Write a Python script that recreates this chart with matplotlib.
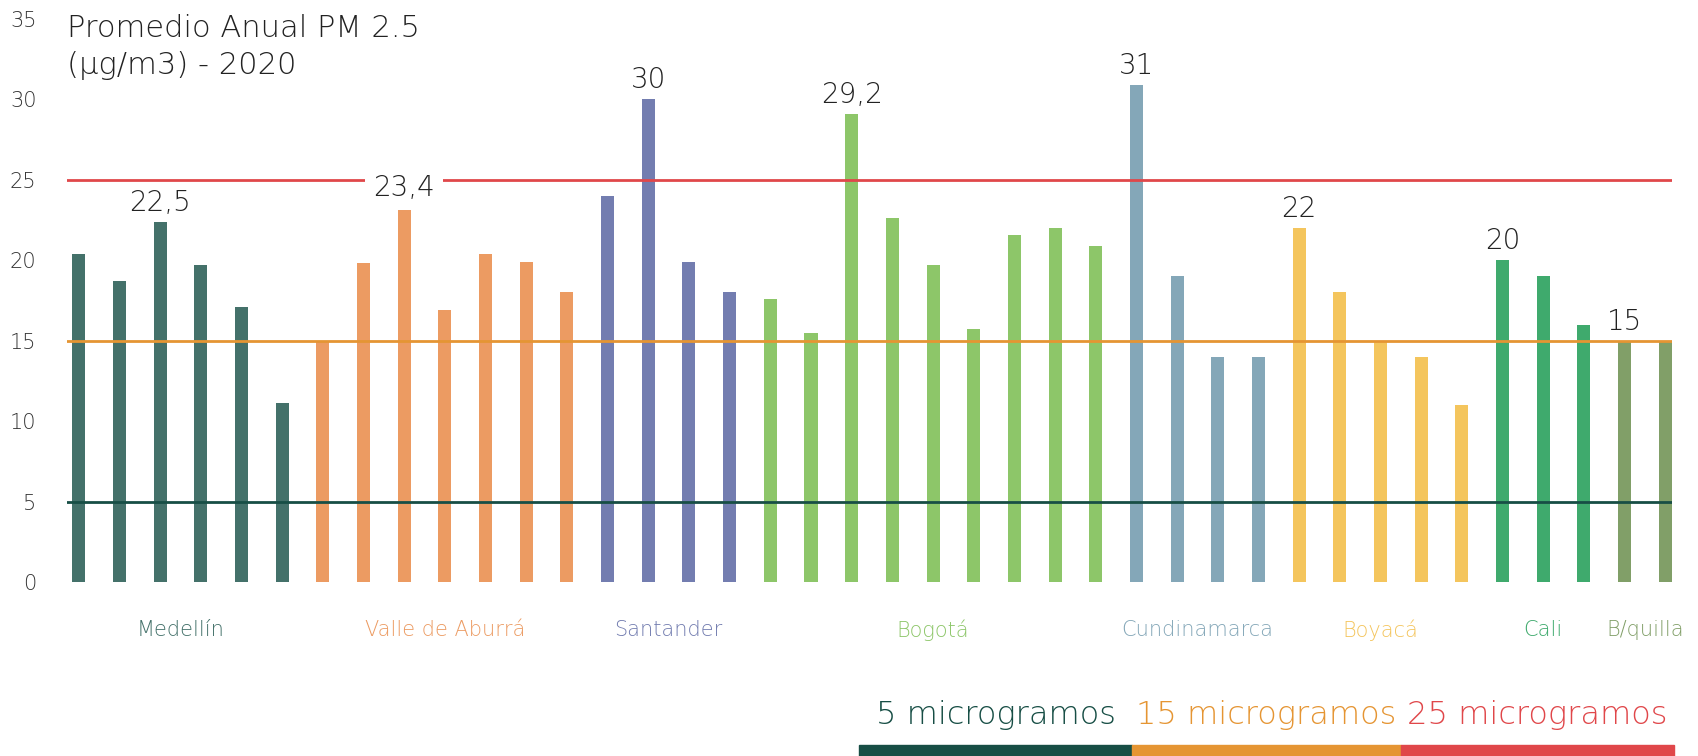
import numpy as np
import matplotlib.pyplot as plt
from matplotlib.patches import Rectangle

plt.rcParams['font.family'] = ['DejaVu Sans']
plt.rcParams['font.weight'] = 'light'

# --- data ---
groups = ["Medellín", "Valle de Aburrá", "Santander", "Bogotá",
          "Cundinamarca", "Boyacá", "Cali", "B/quilla"]
medellin = [20.4, 18.7, 22.4, 19.7, 17.1, 11.1]
valle = [15.0, 19.8, 23.3, 16.9, 20.4, 19.9, 18.0]
santander = [24.0, 30.0, 19.9, 18.0]
bogota = [17.6, 15.5, 29.1, 22.6, 19.7, 15.7, 21.6, 22.0, 20.9]
cundinamarca = [30.9, 19.0, 14.0, 14.0]
boyaca = [22.0, 18.0, 15.0, 14.0, 11.0]
cali = [20.0, 19.0, 16.0]
bquilla = [15.0, 15.0]
group_values = [medellin, valle, santander, bogota, cundinamarca, boyaca, cali, bquilla]
group_colors = ["#44716a", "#ec9b62", "#737db0", "#8dc669",
                "#84a7b8", "#f4c55d", "#3faa6d", "#819f68"]

label_idx = [2, 8, 14, 19, 26, 30, 35, 38]
label_txt = ["22,5", "23,4", "30", "29,2", "31", "22", "20", "15"]

limits = [5, 15, 25]
limit_colors = ["#174e45", "#e59533", "#e0474a"]
limit_names = ["5 microgramos", "15 microgramos", "25 microgramos"]

yticks = [0, 5, 10, 15, 20, 25, 30, 35]

# --- flatten ---
values, colors, group_of = [], [], []
for g, (vals, col) in enumerate(zip(group_values, group_colors)):
    values += vals
    colors += [col] * len(vals)
    group_of += [g] * len(vals)
x = np.arange(len(values))
group_of = np.array(group_of)

fig = plt.figure(figsize=(16.99, 7.56), dpi=100)
ax = fig.add_axes([0.0394, 0.230, 0.9446, 0.745])

ax.bar(x, values, width=0.32, color=colors, zorder=2)
for lim, col in zip(limits, limit_colors):
    ax.axhline(lim, color=col, lw=2.0, zorder=3)

for i, t in zip(label_idx, label_txt):
    # the label that lands on the 25 line gets a white box that cuts the line
    box = None
    if 23 < values[i] < 25:
        box = dict(boxstyle="square,pad=0.3", fc="white", ec="none")
    ax.annotate(t, (x[i], values[i]), xytext=(0, 8), textcoords="offset points",
                ha="center", va="baseline", fontsize=20, color="#222222", zorder=5,
                bbox=box)

for g, name in enumerate(groups):
    cx = x[group_of == g].mean()
    ax.text(cx, -3.0, name, ha="center", va="center", fontsize=15,
            color=group_colors[g], clip_on=False)

ax.set_xlim(-0.29, len(values) - 1 + 0.16)
ax.set_ylim(0, 35)
ax.set_yticks(yticks)
ax.set_xticks([])
ax.tick_params(axis="y", length=0, pad=22, labelsize=15, labelcolor="#333333")
for s in ax.spines.values():
    s.set_visible(False)

fig.text(0.0394, 0.982, "Promedio Anual PM 2.5\n(µg/m3) - 2020", ha="left", va="top",
         fontsize=22, color="#222222", linespacing=1.35)

# legend strip at the bottom
seg_left = [0.5056, 0.6663, 0.8246]
seg_w = [0.1607, 0.1583, 0.1607]
for left, w, col, name in zip(seg_left, seg_w, limit_colors, limit_names):
    fig.patches.append(Rectangle((left, 0.0), w, 0.0145, transform=fig.transFigure,
                                 color=col, zorder=1))
    fig.text(left + w / 2, 0.042, name, ha="center", va="baseline",
             fontsize=23, color=col)

fig.savefig("out.png", dpi=100)
